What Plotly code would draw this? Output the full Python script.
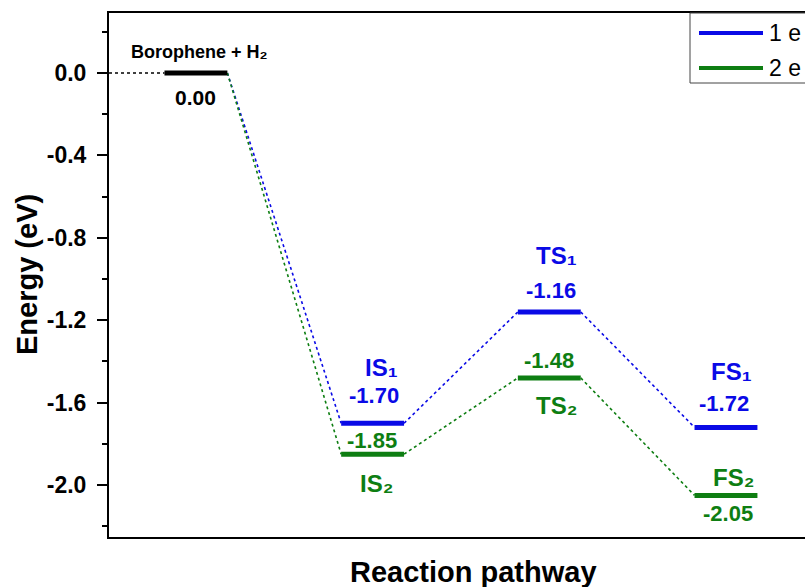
import plotly.graph_objects as go

# ---- data ----
states = ["Borophene + H₂", "IS", "TS", "FS"]
energy_1e = [0.00, -1.70, -1.16, -1.72]
energy_2e = [0.00, -1.85, -1.48, -2.05]
series_names = ["1 e", "2 e"]
y_tickvals = [0.0, -0.4, -0.8, -1.2, -1.6, -2.0]
y_ticktext = ["0.0", "-0.4", "-0.8", "-1.2", "-1.6", "-2.0"]
y_minor = [0.2, -0.2, -0.6, -1.0, -1.4, -1.8, -2.2]

BLUE = "#0A0AE6"
GREEN = "#0E7E12"
FONT = "Liberation Sans, Arial, sans-serif"

xpos = [1, 2, 3, 4]
hw = 0.178  # half width of each level bar

fig = go.Figure()

def add_series(energies, color):
    # dotted connectors
    cx, cy = [], []
    for i in range(len(energies) - 1):
        cx += [xpos[i] + hw, xpos[i + 1] - hw, None]
        cy += [energies[i], energies[i + 1], None]
    fig.add_trace(go.Scatter(x=cx, y=cy, mode="lines", showlegend=False, hoverinfo="skip",
                             line=dict(color=color, width=1.6, dash="dot")))

add_series(energy_1e, BLUE)
add_series(energy_2e, GREEN)

def add_levels(energies, color):
    lx, ly = [], []
    for i in range(1, len(energies)):
        lx += [xpos[i] - hw, xpos[i] + hw, None]
        ly += [energies[i], energies[i], None]
    fig.add_trace(go.Scatter(x=lx, y=ly, mode="lines", showlegend=False, hoverinfo="skip",
                             line=dict(color=color, width=5)))

add_levels(energy_2e, GREEN)
add_levels(energy_1e, BLUE)

# initial state (common), black
fig.add_trace(go.Scatter(x=[0.508, xpos[0] - hw], y=[energy_1e[0], energy_1e[0]], mode="lines",
                         showlegend=False, hoverinfo="skip",
                         line=dict(color="black", width=1.6, dash="dot")))
fig.add_trace(go.Scatter(x=[xpos[0] - hw, xpos[0] + hw], y=[energy_1e[0], energy_1e[0]], mode="lines",
                         showlegend=False, hoverinfo="skip",
                         line=dict(color="black", width=5)))

# ---- labels ----
def lab(x, y, text, color, size):
    fig.add_annotation(x=x, y=y, xref="x", yref="y", text=text, showarrow=False,
                       font=dict(family=FONT, size=size, color=color, weight="bold"),
                       xanchor="center", yanchor="middle")

lab(1.02, energy_1e[0] + 0.102, "Borophene + H₂", "black", 18)
lab(1.00, energy_1e[0] - 0.121, f"{energy_1e[0]:.2f}", "black", 21)

# series 1 (blue)
lab(2.05, energy_1e[1] + 0.273, "IS₁", BLUE, 24)
lab(2.01, energy_1e[1] + 0.137, f"{energy_1e[1]:.2f}", BLUE, 22)
lab(3.04, energy_1e[2] + 0.272, "TS₁", BLUE, 24)
lab(3.01, energy_1e[2] + 0.102, f"{energy_1e[2]:.2f}", BLUE, 22)
lab(4.03, energy_1e[3] + 0.270, "FS₁", BLUE, 24)
lab(3.99, energy_1e[3] + 0.118, f"{energy_1e[3]:.2f}", BLUE, 22)

# series 2 (green)
lab(1.995, energy_2e[1] + 0.068, f"{energy_2e[1]:.2f}", GREEN, 22)
lab(2.02, energy_2e[1] - 0.140, "IS₂", GREEN, 24)
lab(3.00, energy_2e[2] + 0.087, f"{energy_2e[2]:.2f}", GREEN, 22)
lab(3.04, energy_2e[2] - 0.132, "TS₂", GREEN, 24)
lab(4.04, energy_2e[3] + 0.089, "FS₂", GREEN, 24)
lab(4.01, energy_2e[3] - 0.086, f"{energy_2e[3]:.2f}", GREEN, 22)

# ---- axis titles ----
fig.add_annotation(x=(473 - 109) / 729, y=(537 - 572) / 524, xref="paper", yref="paper",
                   text="Reaction pathway", showarrow=False, xanchor="center", yanchor="middle",
                   font=dict(family=FONT, size=29, color="black", weight="bold"))
fig.add_annotation(x=(27 - 109) / 729, y=(537 - 275) / 524, xref="paper", yref="paper",
                   text="Energy (eV)", showarrow=False, xanchor="center", yanchor="middle",
                   textangle=-90,
                   font=dict(family=FONT, size=29, color="black", weight="bold"))

# ---- legend (drawn manually) ----
def px(xp):
    return (xp - 109) / 729

def py(yp):
    return (537 - yp) / 524

fig.add_shape(type="rect", xref="paper", yref="paper", x0=px(690), x1=px(836), y0=py(83), y1=py(13),
              line=dict(color="#444444", width=1), fillcolor="white", layer="above")
for name, color, yy in [(series_names[0], BLUE, 33), (series_names[1], GREEN, 68)]:
    fig.add_shape(type="line", xref="paper", yref="paper", x0=px(699), x1=px(763), y0=py(yy), y1=py(yy),
                  line=dict(color=color, width=4), layer="above")
    fig.add_annotation(x=px(767), y=py(yy), xref="paper", yref="paper", text=name, showarrow=False,
                       xanchor="left", yanchor="middle",
                       font=dict(family=FONT, size=23, color="black"))

fig.update_layout(
    width=860, height=587,
    margin=dict(l=109, r=22, t=13, b=50),
    paper_bgcolor="white", plot_bgcolor="white",
    showlegend=False,
    xaxis=dict(range=[0.508, 4.634], showgrid=False, zeroline=False, showticklabels=False,
               ticks="", showline=True, linecolor="black", linewidth=2, mirror=True),
    yaxis=dict(range=[-2.252, 0.291], showgrid=False, zeroline=False,
               tickvals=y_tickvals, ticktext=y_ticktext, ticks="outside", ticklen=10, tickwidth=2,
               tickcolor="black", ticklabelstandoff=6,
               tickfont=dict(family=FONT, size=23, color="black", weight="bold"),
               showline=True, linecolor="black", linewidth=2, mirror=True,
               minor=dict(tickvals=y_minor, ticks="outside", ticklen=5, tickwidth=2, tickcolor="black")),
)

fig.write_html("out.html", config={"displayModeBar": False},
               post_script="document.body.style.margin='0';document.body.style.overflow='hidden';document.documentElement.style.overflow='hidden';")
